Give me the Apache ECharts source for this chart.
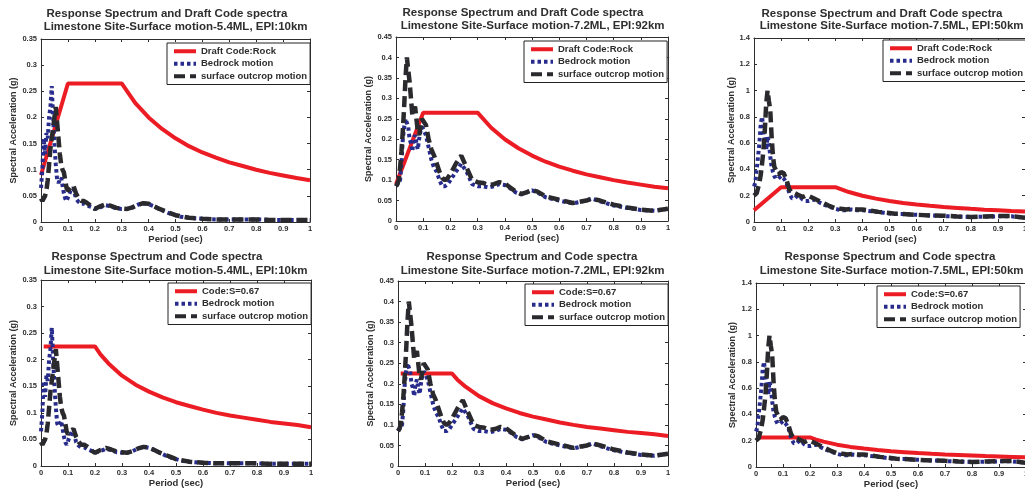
<!DOCTYPE html>
<html>
<head>
<meta charset="utf-8">
<title>Response Spectrum and Code spectra</title>
<script src="https://cdn.jsdelivr.net/npm/echarts@6/dist/echarts.min.js"></script>
<style>
  html, body { margin: 0; padding: 0; background: #fff; }
  #main { width: 1025px; height: 490px; }
</style>
</head>
<body>
<div id="main"></div>
<script>
// period grid (sec) shared by the recorded spectra
var periods = [0, 0.005, 0.01, 0.015, 0.02, 0.025, 0.03, 0.035, 0.04, 0.045,
  0.05, 0.055, 0.06, 0.065, 0.07, 0.075, 0.08, 0.085, 0.09, 0.095,
  0.1, 0.11, 0.12, 0.13, 0.14, 0.15, 0.16, 0.17, 0.18, 0.19,
  0.2, 0.22, 0.24, 0.26, 0.28, 0.3, 0.32, 0.34, 0.36, 0.38,
  0.4, 0.42, 0.44, 0.46, 0.48, 0.5, 0.52, 0.55, 0.6, 0.65,
  0.7, 0.72, 0.75, 0.8, 0.85, 0.9, 0.95, 1.0];

// 5.4ML, EPI:10km
var bedrock54 = [0.065, 0.1, 0.16, 0.13, 0.17, 0.16, 0.2, 0.22, 0.26, 0.2,
  0.15, 0.11, 0.08, 0.075, 0.08, 0.085, 0.07, 0.055, 0.045, 0.04,
  0.042, 0.06, 0.065, 0.045, 0.038, 0.035, 0.035, 0.032, 0.03, 0.028,
  0.025, 0.028, 0.032, 0.03, 0.026, 0.025, 0.025, 0.028, 0.033, 0.036,
  0.034, 0.03, 0.025, 0.02, 0.016, 0.013, 0.01, 0.008, 0.006, 0.005,
  0.005, 0.005, 0.005, 0.005, 0.004, 0.004, 0.004, 0.004];
var surface54 = [0.045, 0.04, 0.042, 0.05, 0.06, 0.08, 0.11, 0.14, 0.16, 0.18,
  0.2, 0.22, 0.19, 0.16, 0.13, 0.11, 0.1, 0.095, 0.08, 0.065,
  0.06, 0.065, 0.07, 0.055, 0.045, 0.04, 0.04, 0.037, 0.033, 0.028,
  0.025, 0.03, 0.034, 0.031, 0.027, 0.026, 0.025, 0.028, 0.033, 0.036,
  0.035, 0.03, 0.025, 0.021, 0.017, 0.013, 0.011, 0.008, 0.006, 0.005,
  0.005, 0.005, 0.005, 0.005, 0.004, 0.004, 0.004, 0.004];

// 7.2ML, EPI:92km
var bedrock72 = [0.085, 0.09, 0.09, 0.1, 0.14, 0.2, 0.23, 0.25, 0.25, 0.23,
  0.2, 0.19, 0.17, 0.2, 0.21, 0.19, 0.175, 0.2, 0.22, 0.23,
  0.225, 0.21, 0.18, 0.15, 0.13, 0.12, 0.1, 0.085, 0.085, 0.09,
  0.1, 0.12, 0.14, 0.12, 0.09, 0.085, 0.085, 0.082, 0.085, 0.09,
  0.088, 0.08, 0.07, 0.065, 0.07, 0.075, 0.07, 0.058, 0.05, 0.043,
  0.05, 0.055, 0.048, 0.038, 0.032, 0.027, 0.025, 0.03];
var surface72 = [0.085, 0.09, 0.1, 0.13, 0.17, 0.22, 0.28, 0.35, 0.4, 0.4,
  0.34, 0.3, 0.26, 0.27, 0.28, 0.25, 0.22, 0.21, 0.23, 0.25,
  0.25, 0.235, 0.2, 0.175, 0.16, 0.14, 0.12, 0.105, 0.1, 0.105,
  0.115, 0.14, 0.16, 0.13, 0.1, 0.095, 0.093, 0.088, 0.09, 0.095,
  0.092, 0.082, 0.072, 0.066, 0.07, 0.076, 0.072, 0.06, 0.052, 0.044,
  0.05, 0.055, 0.05, 0.04, 0.033, 0.028, 0.025, 0.03];

// 7.5ML, EPI:50km
var bedrock75 = [0.27, 0.3, 0.4, 0.5, 0.6, 0.75, 0.8, 0.68, 0.62, 0.55,
  0.65, 0.6, 0.5, 0.42, 0.38, 0.35, 0.33, 0.34, 0.33, 0.34,
  0.35, 0.33, 0.3, 0.22, 0.18, 0.18, 0.2, 0.19, 0.17, 0.16,
  0.16, 0.17, 0.15, 0.13, 0.115, 0.1, 0.09, 0.09, 0.095, 0.09,
  0.09, 0.085, 0.08, 0.075, 0.07, 0.065, 0.06, 0.06, 0.055, 0.05,
  0.045, 0.044, 0.042, 0.038, 0.04, 0.043, 0.043, 0.032];
var surface75 = [0.2, 0.21, 0.22, 0.26, 0.3, 0.36, 0.45, 0.55, 0.7, 0.9,
  1.0, 0.92, 0.85, 0.65, 0.5, 0.42, 0.4, 0.38, 0.36, 0.37,
  0.38, 0.37, 0.32, 0.25, 0.22, 0.22, 0.21, 0.2, 0.19, 0.2,
  0.2, 0.18, 0.16, 0.14, 0.12, 0.105, 0.1, 0.095, 0.1, 0.095,
  0.095, 0.09, 0.083, 0.077, 0.072, 0.068, 0.063, 0.06, 0.055, 0.05,
  0.047, 0.046, 0.042, 0.038, 0.042, 0.045, 0.045, 0.032];

// design spectra
var draftPeriods = [0, 0.1, 0.3, 0.35, 0.4, 0.45, 0.5, 0.55, 0.6, 0.65, 0.7, 0.75, 0.8, 0.85, 0.9, 0.95, 1.0];
var draftRock = [0.09, 0.265, 0.265, 0.228, 0.2, 0.178, 0.16, 0.145, 0.133, 0.123, 0.114, 0.107, 0.1, 0.094, 0.089, 0.084, 0.08];
var codePeriods = [0.01, 0.2, 0.22, 0.25, 0.3, 0.35, 0.4, 0.45, 0.5, 0.55, 0.6, 0.65, 0.7, 0.75, 0.8, 0.85, 0.9, 0.95, 1.0];
var codeS067 = [0.225, 0.225, 0.21, 0.193, 0.17, 0.153, 0.14, 0.129, 0.12, 0.113, 0.106, 0.1, 0.095, 0.091, 0.087, 0.083, 0.08, 0.077, 0.073];

var FONT = '"Liberation Sans", Arial, Helvetica, sans-serif';
var INK = '#2e2e2e';
var RED = '#ec1c24';
var BLUE = '#272c8c';
var DARK = '#2a2a2e';

function pairs(xs, ys) {
  return xs.map(function (x, i) { return [x, ys[i]]; });
}

var events = [
  { label: ' Limestone Site-Surface motion-5.4ML, EPI:10km', bedrock: bedrock54, surface: surface54, ymax: 0.35, step: 0.05 },
  { label: ' Limestone Site-Surface motion-7.2ML, EPI:92km', bedrock: bedrock72, surface: surface72, ymax: 0.45, step: 0.05 },
  { label: ' Limestone Site-Surface motion-7.5ML, EPI:50km', bedrock: bedrock75, surface: surface75, ymax: 1.4, step: 0.2 }
];
var codes = [
  { heading: 'Response Spectrum and Draft Code spectra', name: 'Draft Code:Rock', x: draftPeriods, y: draftRock },
  { heading: 'Response Spectrum and Code spectra', name: 'Code:S=0.67', x: codePeriods, y: codeS067 }
];

// layout of the six panels
var panels = [
  { ev: 0, code: 0, grid: [41, 39, 269, 183], t: [167, 174, 8, 21], lg: [167, 43], yGap: 21 },
  { ev: 1, code: 0, grid: [396, 37, 272, 184], t: [523, 531, 7, 20], lg: [524, 41], yGap: 20 },
  { ev: 2, code: 0, grid: [754, 38, 271, 184], t: [882, 890, 8, 20], lg: [883, 40], yGap: 18 },
  { ev: 0, code: 1, grid: [41, 280, 270, 186], t: [157, 174, 251, 265], lg: [168, 283], yGap: 22 },
  { ev: 1, code: 1, grid: [398, 281, 270, 185], t: [532, 531, 251, 265], lg: [525, 284], yGap: 21 },
  { ev: 2, code: 1, grid: [756, 283, 270, 184], t: [890, 890, 251, 265], lg: [877, 286], yGap: 19 }
];

var option = {
  animation: false,
  backgroundColor: '#fff',
  title: [], grid: [], xAxis: [], yAxis: [], legend: [], series: []
};

var titleStyle = { fontSize: 11.5, fontWeight: 'bold', color: INK, fontFamily: FONT };
var tickLabel = { fontSize: 7.5, fontWeight: 'bold', color: INK, fontFamily: FONT };
var nameStyle = { fontSize: 9.5, fontWeight: 'bold', color: INK, fontFamily: FONT };

panels.forEach(function (p, i) {
  var ev = events[p.ev], code = codes[p.code];
  option.title.push(
    { text: code.heading, left: p.t[0], top: p.t[2], textAlign: 'center', padding: 0, textStyle: titleStyle },
    { text: ev.label, left: p.t[1], top: p.t[3], textAlign: 'center', padding: 0, textStyle: titleStyle }
  );
  option.grid.push({
    left: p.grid[0], top: p.grid[1], width: p.grid[2], height: p.grid[3],
    outerBoundsMode: 'none', show: false
  });

  var line = { show: true, onZero: false, lineStyle: { color: INK, width: 1 } };
  var tick = { show: true, inside: true, length: 3, lineStyle: { color: INK, width: 1 } };
  option.xAxis.push({
    gridIndex: i, type: 'value', position: 'bottom', min: 0, max: 1, interval: 0.1,
    name: 'Period (sec)', nameLocation: 'middle', nameGap: 11, nameTextStyle: nameStyle,
    axisLine: line, axisTick: tick, splitLine: { show: false },
    axisLabel: Object.assign({ margin: 3 }, tickLabel)
  }, {
    gridIndex: i, type: 'value', position: 'top', min: 0, max: 1, interval: 0.1,
    axisLine: line, axisTick: tick, splitLine: { show: false }, axisLabel: { show: false }
  });
  option.yAxis.push({
    gridIndex: i, type: 'value', position: 'left', min: 0, max: ev.ymax, interval: ev.step,
    name: 'Spectral Acceleration (g)', nameLocation: 'middle', nameGap: p.yGap,
    nameTextStyle: Object.assign({}, nameStyle, { fontSize: 9 }),
    axisLine: line, axisTick: tick, splitLine: { show: false },
    axisLabel: Object.assign({ margin: 4 }, tickLabel)
  }, {
    gridIndex: i, type: 'value', position: 'right', min: 0, max: ev.ymax, interval: ev.step,
    axisLine: line, axisTick: tick, splitLine: { show: false }, axisLabel: { show: false }
  });

  option.legend.push({
    orient: 'vertical', left: p.lg[0], top: p.lg[1],
    data: [code.name, 'Bedrock motion', 'surface outcrop motion'],
    backgroundColor: '#fff', borderColor: '#222', borderWidth: 1, borderRadius: 0,
    padding: [3, 3, 3, 5], itemWidth: 22, itemHeight: 10, itemGap: 2,
    selectedMode: false,
    itemStyle: { opacity: 0 },
    lineStyle: { width: 4 },
    textStyle: { fontSize: 9.5, fontWeight: 'bold', color: INK, fontFamily: FONT, lineHeight: 10.5 }
  });

  var ax = { xAxisIndex: 2 * i, yAxisIndex: 2 * i };
  option.series.push(
    Object.assign({
      name: code.name, type: 'line', symbol: 'none', silent: true,
      data: pairs(code.x, code.y),
      itemStyle: { color: RED },
      lineStyle: { color: RED, width: 4, cap: 'butt' }
    }, ax),
    Object.assign({
      name: 'Bedrock motion', type: 'line', symbol: 'none', silent: true,
      data: pairs(periods, ev.bedrock),
      itemStyle: { color: BLUE },
      lineStyle: { color: BLUE, width: 4, type: [3.5, 3], cap: 'butt' }
    }, ax),
    Object.assign({
      name: 'surface outcrop motion', type: 'line', symbol: 'none', silent: true,
      data: pairs(periods, ev.surface),
      itemStyle: { color: DARK },
      lineStyle: { color: DARK, width: 4.5, type: [11, 5], cap: 'butt' }
    }, ax)
  );
});

var chart = echarts.init(document.getElementById('main'));
chart.setOption(option);
</script>
</body>
</html>
